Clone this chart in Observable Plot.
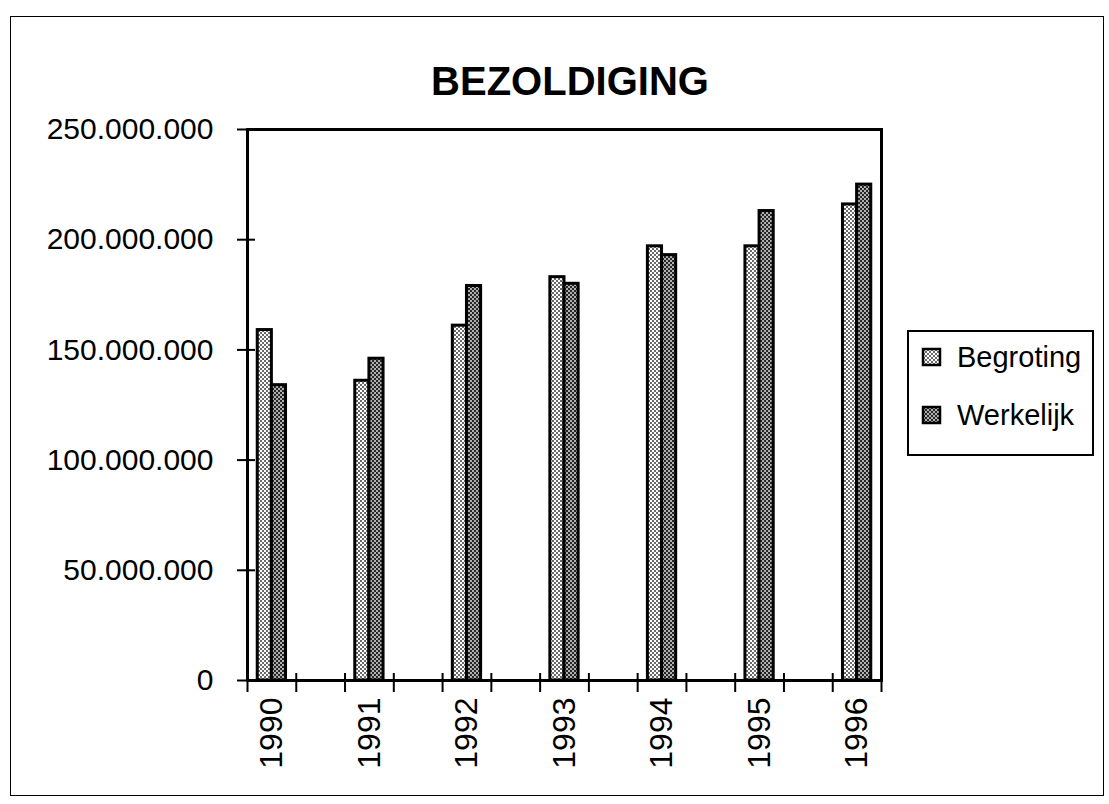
<!DOCTYPE html>
<html><head><meta charset="utf-8">
<script src="https://cdn.jsdelivr.net/npm/d3@7"></script>
<script src="https://cdn.jsdelivr.net/npm/@observablehq/plot@0.6"></script>
<style>
body{margin:0;background:#fff;font-family:"Liberation Sans",Arial,sans-serif;}
#wrap{position:relative;width:1109px;height:804px;overflow:hidden;background:#fff;}
#border{position:absolute;left:10px;top:16px;width:1094px;height:780px;border:1.5px solid #000;box-sizing:border-box;}
#title{position:absolute;left:0;width:1140px;top:61px;line-height:40px;text-align:center;font-weight:bold;font-size:40px;}
#chart{position:absolute;left:0;top:0;}
#legend{position:absolute;left:907px;top:330px;width:187px;height:126px;border:2px solid #000;box-sizing:border-box;background:#fff;}
.row{position:absolute;left:12px;display:flex;align-items:center;font-size:29px;height:34px;}
.row svg{margin-right:14px;}
</style>
</head><body>
<div id="wrap">
  <div id="border"></div>
  <div id="chart"></div>
  <div id="title">BEZOLDIGING</div>
  <div id="legend"></div>
</div>
<script>
// ---- data ----
const years = [1990, 1991, 1992, 1993, 1994, 1995, 1996];
const begroting = [159000000, 136000000, 161000000, 183000000, 197000000, 197000000, 216000000];
const werkelijk = [134000000, 146000000, 179000000, 180000000, 193000000, 213000000, 225000000];
const seriesNames = ["Begroting", "Werkelijk"];
const yTicks = [0, 50000000, 100000000, 150000000, 200000000, 250000000];
const xMinorTicks = [1989.75, 1990.25, 1990.75, 1991.25, 1991.75, 1992.25, 1992.75, 1993.25, 1993.75, 1994.25, 1994.75, 1995.25, 1995.75, 1996.25];

// ---- build table ----
const rows = years.flatMap((yr, i) => [
  {year: yr, series: seriesNames[0], value: begroting[i]},
  {year: yr, series: seriesNames[1], value: werkelijk[i]}
]);
const bw = 0.145; // bar width in year units
const fmt = d => d3.format(",")(d).replace(/,/g, ".");

const svg = Plot.plot({
  width: 1109,
  height: 804,
  marginLeft: 247,
  marginTop: 129,
  marginRight: 228,
  marginBottom: 124,
  style: {fontFamily: "'Liberation Sans', Arial, sans-serif", color: "#000", background: "transparent"},
  x: {type: "linear", domain: [1989.75, 1996.25]},
  y: {domain: [0, 250000000]},
  marks: [
    Plot.rectY(rows.filter(d => d.series === seriesNames[0]), {
      x1: d => d.year - bw, x2: d => d.year, y: "value",
      fill: "url(#patB)", stroke: "#000", strokeWidth: 3
    }),
    Plot.rectY(rows.filter(d => d.series === seriesNames[1]), {
      x1: d => d.year, x2: d => d.year + bw, y: "value",
      fill: "url(#patW)", stroke: "#000", strokeWidth: 3
    }),
    Plot.axisY({ticks: yTicks, tickSize: 10, tickPadding: 24, tickFormat: fmt, fontSize: 30, strokeWidth: 2, label: null}),
    Plot.axisY({ticks: yTicks, tickSize: -8, tickFormat: () => "", strokeWidth: 2, label: null}),
    Plot.axisX({ticks: xMinorTicks, tickSize: 12, tickFormat: () => "", strokeWidth: 2, label: null}),
    Plot.axisX({ticks: xMinorTicks, tickSize: -7, tickFormat: () => "", strokeWidth: 2, label: null}),
    Plot.axisX({ticks: years, tickSize: 0, tickPadding: 17, tickRotate: -90, tickFormat: d => String(d), fontSize: 32, label: null}),
    Plot.frame({stroke: "#000", strokeWidth: 3})
  ]
});

function addPatterns(svgNode, suffix) {
  const defs = d3.select(svgNode).insert("defs", ":first-child");
  const mk = (id, bg, fg) => {
    const p = defs.append("pattern").attr("id", id + suffix)
      .attr("width", 4).attr("height", 4).attr("patternUnits", "userSpaceOnUse");
    p.append("rect").attr("width", 4).attr("height", 4).attr("fill", bg);
    p.append("rect").attr("width", 2).attr("height", 2).attr("fill", fg);
    p.append("rect").attr("x", 2).attr("y", 2).attr("width", 2).attr("height", 2).attr("fill", fg);
  };
  mk("patB", "#ffffff", "#6a6a6a");
  mk("patW", "#b0b0b0", "#262626");
}
addPatterns(svg, "");
document.getElementById("chart").appendChild(svg);

// ---- legend ----
const legend = document.getElementById("legend");
const patIds = ["patB", "patW"];
const rowTops = [8, 66];
seriesNames.forEach((name, i) => {
  const row = document.createElement("div");
  row.className = "row";
  row.style.top = rowTops[i] + "px";
  const sw = d3.create("svg").attr("width", 22).attr("height", 20);
  addPatterns(sw.node(), "L" + i);
  sw.append("rect").attr("x", 2).attr("y", 2).attr("width", 17).attr("height", 16)
    .attr("fill", `url(#${patIds[i]}L${i})`).attr("stroke", "#000").attr("stroke-width", 2.5);
  row.appendChild(sw.node());
  const t = document.createElement("span");
  t.textContent = name;
  row.appendChild(t);
  legend.appendChild(row);
});
</script>
</body></html>
